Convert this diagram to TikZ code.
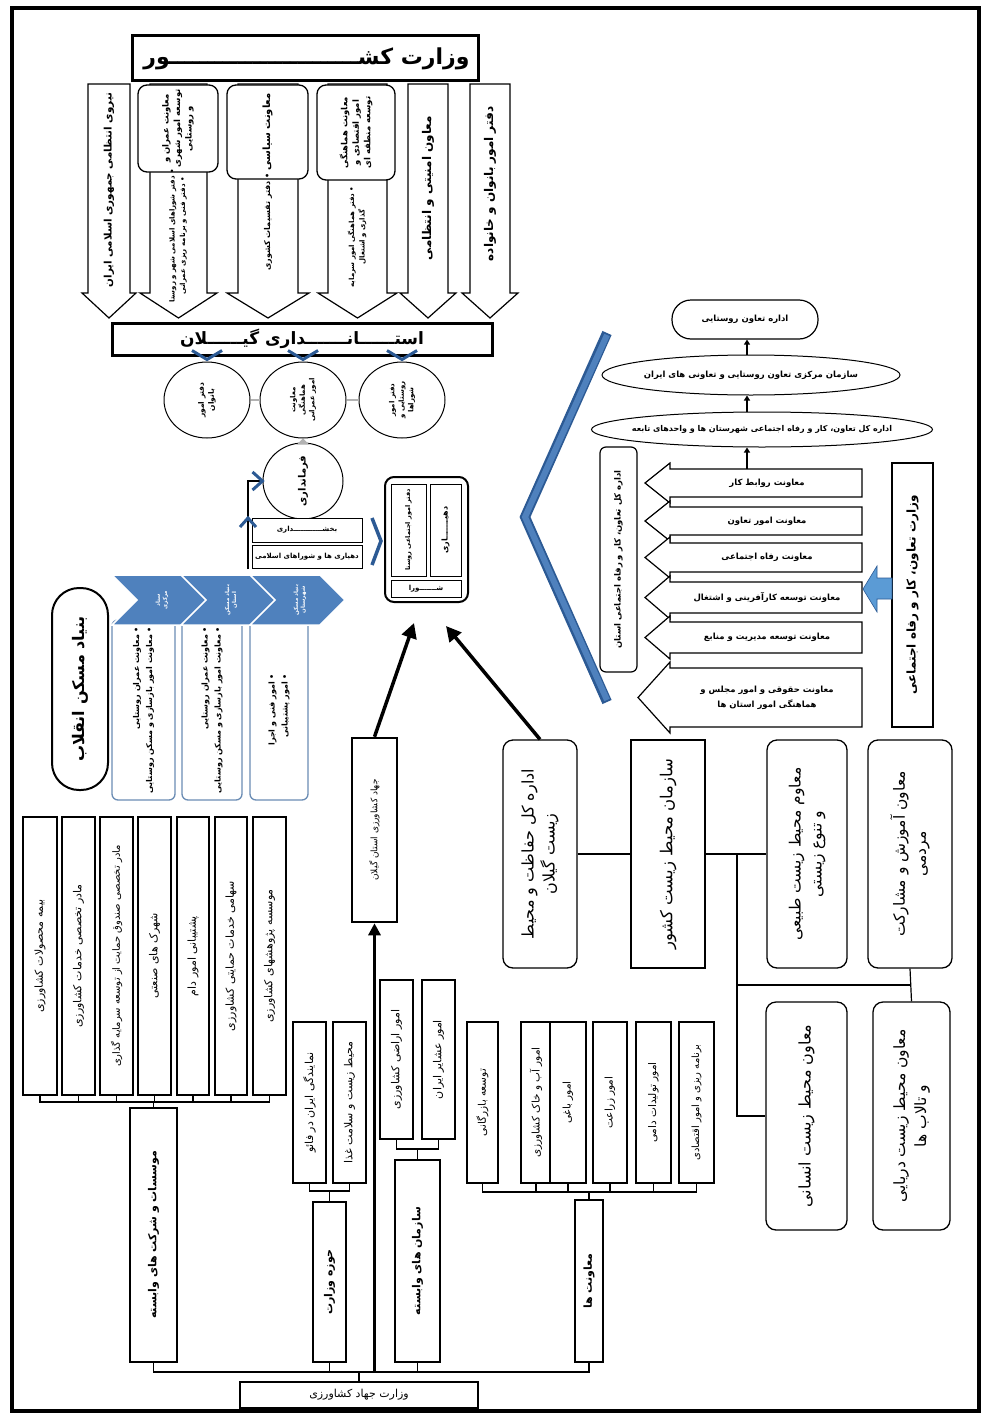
\documentclass[tikz,border=0pt]{standalone}
\usepackage{fontspec}
\newfontfamily\arabicfont[Script=Arabic]{DejaVu Sans}
\TeXXeTstate=1
\usetikzlibrary{fit,shapes.geometric,arrows.meta,calc}
\newcommand{\fa}[1]{\beginR #1\endR}
\newcommand{\FB}[2]{\arabicfont\bfseries\fontsize{#1}{#2}\selectfont}
\newcommand{\FN}[2]{\arabicfont\fontsize{#1}{#2}\selectfont}
\definecolor{bl}{HTML}{4F81BD}
\definecolor{bldark}{HTML}{2C5A94}
\definecolor{blfill}{HTML}{5B9BD5}
\definecolor{bxblue}{HTML}{6A8CB4}
\newcommand{\vbx}[5][]{\node[#2, fit={#4}, inner sep=0pt] (#3) {};\node[rotate=90, align=center, inner sep=0pt, #1] (#3t) at (#3.center) {#5};}
\newcommand{\hbx}[5][]{\node[#2, fit={#4}, inner sep=0pt] (#3) {};\node[align=center, inner sep=0pt, #1] (#3t) at (#3.center) {#5};}
\newcommand{\dar}[3]{\draw[arw] (#1,84) -- (#2,84) -- (#2,293) -- ({#2+#3},293) -- ({(#1+#2)/2},318) -- ({#1-#3},293) -- (#1,293) -- cycle;}
\newcommand{\lar}[5]{\draw[arw] (862,#2) -- (670,#2) -- (670,{#2-6}) -- (#4,{(#2+#3)/2}) -- (670,{#3+6}) -- (670,#3) -- (862,#3) -- cycle;
  \node[font=\FB{8.5}{12}, align=center, inner sep=0pt] (#1) at (767,{(#2+#3)/2}) {#5};}
\newcommand{\chev}[2]{\draw[chevst] (#1,575) -- ({#1+70},575) -- ({#1+95},600) -- ({#1+70},625) -- (#1,625) -- ({#1+25},600) -- cycle;
  \node[rotate=90, align=center, inner sep=0pt, text=white, font=\FB{5.5}{7}] at ({#1+50},600) {#2};}
\begin{document}
\begin{tikzpicture}[x=1pt,y=-1pt,
  bx/.style={draw, line width=1.3pt, fill=white},
  rbx/.style={bx, rounded corners=9pt},
  arw/.style={draw, line width=1.2pt, fill=white, line join=miter},
  ell/.style={ellipse, draw, line width=1pt, inner sep=0pt, fill=white},
  rot/.style={rotate=90, align=center, inner sep=0pt},
  blchev/.style={draw=bldark, line width=3pt, line cap=butt, line join=miter},
  chevst/.style={fill=bl, draw=white, line width=1.5pt},
  ln/.style={line width=1.2pt},
  barrow/.style={line width=3.5pt, -{Triangle[width=15pt,length=15pt]}},
  sarrow/.style={line width=1.5pt, -{Triangle[width=6pt,length=5pt]}}]
\useasboundingbox (0,0) rectangle (986,1418);
\fill[white] (0,0) rectangle (986,1418);
\draw[line width=3.5pt] (12,8) rectangle (979,1411);

% ---------- top: ministry of interior ----------
\node[bx, line width=3pt, fit={(132,36) (478,81)}, inner sep=0pt] (vk) {};
\node[font=\FB{22}{26}, inner sep=0pt, anchor=east] (vkt) at ($(vk.east)+(-10,0)$) {\fa{وزارت کشـــــــــــــــــــــــــور}};
\dar{88}{130}{6}
\dar{150}{207}{10}
\dar{238}{298}{11}
\dar{328}{387}{10}
\dar{408}{448}{8}
\dar{470}{510}{8}
\node[rot, font=\FB{10.3}{13}] (a1t) at (109,190) {\fa{نیروی انتظامی جمهوری اسلامی ایران}};
\vbx[font=\FB{8.5}{11.5}]{rbx}{m2}{(138,85) (218,172)}{\fa{معاونت عمران و}\\\fa{توسعه امور شهری}\\\fa{و روستایی}};
\node[rot, font=\FB{7}{10.5}] (a2t) at (178,236) {\fa{• دفتر شوراهای اسلامی شهر و روستا}\\\fa{• دفتر فنی و برنامه ریزی عمرانی}};
\vbx[font=\FB{10}{13}]{rbx}{m3}{(227,85) (308,179)}{\fa{معاونت سیاسی}};
\node[rot, font=\FB{8}{11}] (a3t) at (268,222) {\fa{• دفتر تقسیمات کشوری}};
\vbx[font=\FB{8.5}{11.5}]{rbx}{m4}{(317,85) (395,180)}{\fa{معاونت هماهنگی}\\\fa{امور اقتصادی و}\\\fa{توسعه منطقه ای}};
\node[rot, font=\FB{7}{10.5}] (a4t) at (357,237) {\fa{• دفتر هماهنگی امور سرمایه}\\\fa{گذاری و اشتغال}};
\node[rot, font=\FB{12}{14}] (a5t) at (428,188) {\fa{معاون امنیتی و انتظامی}};
\node[rot, font=\FB{12}{14}] (a6t) at (490,184) {\fa{دفتر امور بانوان و خانواده}};

% ---------- governorate ----------
\hbx[font=\FB{17}{20}]{bx, line width=3pt}{og}{(112,323) (492,355)}{\fa{استــــــانـــــــداری گیــــــلان}}
\node[ell, minimum width=86, minimum height=76] (c1) at (207,400) {};
\node[ell, minimum width=86, minimum height=76] (c2) at (303,400) {};
\node[ell, minimum width=86, minimum height=76] (c3) at (402,400) {};
\node[rot, font=\FB{7.5}{10}] (c1t) at (c1) {\fa{دفتر امور}\\\fa{بانوان}};
\node[rot, font=\FB{7}{9.5}] (c2t) at (c2) {\fa{معاونت}\\\fa{هماهنگی}\\\fa{امور عمرانی}};
\node[rot, font=\FB{7}{9.5}] (c3t) at (c3) {\fa{دفتر امور}\\\fa{روستایی و}\\\fa{شوراها}};
\draw[gray!60, line width=1.2pt] (c1) -- (c2);
\draw[gray!60, line width=1.2pt] (c2) -- (c3);
\foreach \c in {c1,c2,c3} \draw[blchev] ($(\c.north)+(-15,-11)$) -- ($(\c.north)+(0,-2)$) -- ($(\c.north)+(15,-11)$);
\node[ell, minimum width=80, minimum height=76] (fm) at (303,481) {};
\node[rot, font=\FB{10}{13}] (fmt) at (fm) {\fa{فرمانداری}};
\draw[-{Triangle[width=12pt,length=6pt]}, gray!60, line width=1pt] (fm.north) -- (c2.south);
\hbx[font=\FB{7}{9}]{draw, line width=1pt, fill=white}{dh1}{(252,518) (362,542)}{\fa{بخشــــــــــــداری}}
\hbx[font=\FB{7}{9}]{draw, line width=1pt, fill=white}{dh2}{(252,545) (362,568)}{\fa{دهیاری ها و شوراهای اسلامی}}
\coordinate (brb) at (248,569);
\draw[line width=2.5pt] (brb) |- (fm.west);
\draw[blchev] ($(fm.west)+(-10,-9)$) -- (fm.west) -- ($(fm.west)+(-10,9)$);
\draw[blchev] (240,527) -- (248,518) -- (256,527);
\draw[blchev, line width=3.5pt] (372,518) -- (381,541) -- (372,565);

% ---------- middle box ----------
\node[draw, line width=2pt, rounded corners=9pt, fit={(385,477) (468,602)}, inner sep=0pt] (mb) {};
\vbx[font=\FB{6.5}{8}]{draw, line width=0.8pt}{mb1}{(391,484) (426,576)}{\fa{دفتر امور اجتماعی روستا}}
\vbx[font=\FB{8}{10}]{draw, line width=0.8pt}{mb2}{(430,484) (461,576)}{\fa{دهیـــــــاری}}
\hbx[font=\FB{7}{9}]{draw, line width=0.8pt}{mb3}{(391,580) (461,597)}{\fa{شـــــــورا}}

% ---------- big blue chevron ----------
\draw[line width=10pt, color=bldark] (607,333) -- (525,517) -- (607,702);
\draw[line width=6pt, color=bl] (607,335) -- (525,517) -- (607,700);

% ---------- right: ministry of cooperatives ----------
\hbx[font=\FB{8.5}{11}]{draw, line width=1.2pt, rounded corners=19pt}{p1}{(672,300) (818,339)}{\fa{اداره تعاون روستایی}}
\node[ell, minimum width=298, minimum height=40] (e2) at (751,375) {};
\node[font=\FB{8.5}{11}, inner sep=0pt] (e2t) at (e2) {\fa{سازمان مرکزی تعاون روستایی و تعاونی های ایران}};
\node[ell, minimum width=341, minimum height=35] (e3) at (762,429.5) {};
\node[font=\FB{8}{11}, inner sep=0pt] (e3t) at (e3) {\fa{اداره کل تعاون، کار و رفاه اجتماعی شهرستان ها و واحدهای تابعه}};
\coordinate (ax) at (747,0);
\coordinate (r1top) at (747,469);
\draw[sarrow] (r1top) -- (e3.south -| ax);
\draw[sarrow] (e3.north -| ax) -- (e2.south -| ax);
\draw[sarrow] (e2.north -| ax) -- (p1.south -| ax);
\lar{r1}{469}{497}{645}{\fa{معاونت روابط کار}}
\lar{r2}{507}{535}{645}{\fa{معاونت امور تعاون}}
\lar{r3}{543}{572}{645}{\fa{معاونت رفاه اجتماعی}}
\lar{r4}{582}{613}{645}{\fa{معاونت توسعه کارآفرینی و اشتغال}}
\lar{r5}{622}{653}{645}{\fa{معاونت توسعه مدیریت و منابع}}
\lar{r6}{668}{727}{638}{\fa{معاونت حقوقی و امور مجلس و}\\[3pt]\fa{هماهنگی امور استان ها}}
\vbx[font=\FB{8.5}{11}]{draw, line width=1.2pt, rounded corners=6pt, fill=white}{ek2}{(600,447) (637,672)}{\fa{اداره کل تعاون، کار و رفاه اجتماعی استان}}
\vbx[font=\FB{12}{15}]{draw, line width=1.5pt}{vt}{(892,463) (933,727)}{\fa{وزارت تعاون، کار و رفاه اجتماعی}}
\draw[fill=blfill, draw=bldark, line width=0.6pt] (892,578) -- (877,578) -- (877,566) -- (863,589) -- (877,612) -- (877,599) -- (892,599) -- cycle;

% ---------- housing foundation ----------
\vbx[font=\FB{16}{19}]{draw, line width=2pt, rounded corners=27pt}{bm}{(52,588) (108,790)}{\fa{بنیاد مسکن انقلاب}}
\vbx[font=\FB{8}{13}, align=right]{draw=bxblue, line width=1.3pt, rounded corners=6pt}{b1}{(112,620) (175,800)}{\fa{• معاونت عمران روستایی}\\\fa{• معاونت امور بازسازی و مسکن روستایی}}
\vbx[font=\FB{8}{13}, align=right]{draw=bxblue, line width=1.3pt, rounded corners=6pt}{b2}{(182,620) (242,800)}{\fa{• معاونت عمران روستایی}\\\fa{• معاونت امور بازسازی و مسکن روستایی}}
\vbx[font=\FB{8}{13}, align=right]{draw=bxblue, line width=1.3pt, rounded corners=6pt}{b3}{(250,620) (308,800)}{\fa{• امور فنی و اجرا}\\\fa{• امور پشتیبانی}}
\chev{112}{\fa{ستاد}\\\fa{مرکزی}}
\chev{181}{\fa{بنیاد مسکن}\\\fa{استان}}
\chev{250}{\fa{بنیاد مسکن}\\\fa{شهرستان}}

% ---------- agriculture ----------
\vbx[font=\FN{9}{12}]{draw, line width=2.5pt, fill=white}{jk}{(352,738) (397,922)}{\fa{جهاد کشاورزی استان گیلان}}
\vbx[font=\FN{11}{14}]{bx}{s1}{(23,817) (57,1095)}{\fa{بیمه محصولات کشاورزی}}
\vbx[font=\FN{11}{14}]{bx}{s2}{(62,817) (95,1095)}{\fa{مادر تخصصی خدمات کشاورزی}}
\vbx[font=\FN{10}{13}]{bx}{s3}{(100,817) (133,1095)}{\fa{مادر تخصصی صندوق حمایت از توسعه سرمایه گذاری}}
\vbx[font=\FN{11}{14}]{bx}{s4}{(138,817) (171,1095)}{\fa{شهرک های صنعتی}}
\vbx[font=\FN{11}{14}]{bx}{s5}{(177,817) (209,1095)}{\fa{پشتیبانی امور دام}}
\vbx[font=\FN{11}{14}]{bx}{s6}{(215,817) (247,1095)}{\fa{سهامی خدمات حمایتی کشاورزی}}
\vbx[font=\FN{11}{14}]{bx}{s7}{(253,817) (286,1095)}{\fa{موسسه پژوهشهای کشاورزی}}
\vbx[font=\FB{11}{14}]{bx}{ms}{(130,1108) (177,1362)}{\fa{موسسات و شرکت های وابسته}}
\coordinate (cy1) at (0,1102);
\draw[ln] (s1.south) |- (s7.south |- cy1) -- (s7.south);
\foreach \s in {s2,s3,s4,s5,s6} \draw[ln] (\s.south) -- (\s.south |- cy1);
\draw[ln] (ms.north) -- (ms.north |- cy1);

\vbx[font=\FN{11}{14}]{bx}{nf}{(293,1022) (326,1183)}{\fa{نمایندگی ایران در فائو}}
\vbx[font=\FN{11}{14}]{bx}{mz}{(333,1022) (366,1183)}{\fa{محیط زیست و سلامت غذا}}
\vbx[font=\FB{11}{14}]{bx}{hv}{(313,1202) (346,1362)}{\fa{حوزه وزارت}}
\coordinate (cy2) at (0,1191);
\draw[ln] (nf.south) |- (mz.south |- cy2) -- (mz.south);
\draw[ln] (hv.north) -- (hv.north |- cy2);

\vbx[font=\FN{11}{14}]{bx}{ak}{(380,980) (413,1139)}{\fa{امور اراضی کشاورزی}}
\vbx[font=\FN{11}{14}]{bx}{ai}{(422,980) (455,1139)}{\fa{امور عشایر ایران}}
\vbx[font=\FB{11}{14}]{bx}{sv}{(395,1160) (440,1362)}{\fa{سازمان های وابسته}}
\coordinate (cy3) at (0,1149);
\draw[ln] (ak.south) |- (ai.south |- cy3) -- (ai.south);
\draw[ln] (sv.north) -- (sv.north |- cy3);

\vbx[font=\FN{10.5}{13}]{bx}{tb}{(467,1022) (498,1183)}{\fa{توسعه بازرگانی}}
\vbx[font=\FN{10.5}{13}]{bx}{ab}{(521,1022) (551,1183)}{\fa{امور آب و خاک کشاورزی}}
\vbx[font=\FN{10.5}{13}]{bx}{ba}{(550,1022) (586,1183)}{\fa{امور باغی}}
\vbx[font=\FN{10.5}{13}]{bx}{za}{(593,1022) (627,1183)}{\fa{امور زراعت}}
\vbx[font=\FN{10.5}{13}]{bx}{td}{(636,1022) (671,1183)}{\fa{امور تولیدات دامی}}
\vbx[font=\FN{10}{12.5}]{bx}{br}{(679,1022) (714,1183)}{\fa{برنامه ریزی و امور اقتصادی}}
\vbx[font=\FB{11}{14}]{bx}{mh}{(575,1200) (603,1362)}{\fa{معاونت ها}}
\coordinate (cy4) at (0,1192);
\draw[ln] (tb.south) |- (br.south |- cy4) -- (br.south);
\foreach \s in {ab,ba,za,td} \draw[ln] (\s.south) -- (\s.south |- cy4);
\draw[ln] (mh.north) -- (mh.north |- cy4);

\hbx[font=\FN{11}{14}]{bx}{vj}{(240,1382) (478,1408)}{\fa{وزارت جهاد کشاورزی}}
\coordinate (cy5) at (0,1372);
\draw[ln] (ms.south) |- (mh.south |- cy5) -- (mh.south);
\foreach \s in {hv,sv} \draw[ln] (\s.south) -- (\s.south |- cy5);
\draw[ln] (vj.north) -- (vj.north |- cy5);
\draw[line width=3.5pt, -{Triangle[width=12pt,length=12pt]}] (jk.south |- cy5) -- (jk.south);

% ---------- environment ----------
\vbx[font=\FN{16}{21}]{draw, line width=1.3pt, rounded corners=10pt}{ek}{(503,740) (577,968)}{\fa{اداره کل حفاظت و محیط}\\\fa{زیست گیلان}}
\vbx[font=\FN{16.5}{20}]{draw, line width=1.3pt}{sm}{(631,740) (705,968)}{\fa{سازمان محیط زیست کشور}}
\vbx[font=\FN{15.5}{21}]{draw, line width=1.3pt, rounded corners=10pt}{mt}{(767,740) (847,968)}{\fa{معاوم محیط زیست طبیعی}\\\fa{و تنوع زیستی}}
\vbx[font=\FN{15.5}{21}]{draw, line width=1.3pt, rounded corners=10pt}{ma}{(868,740) (952,968)}{\fa{معاون آموزش و مشارکت}\\\fa{مردمی}}
\vbx[font=\FN{16}{21}]{draw, line width=1.3pt, rounded corners=10pt}{mi}{(766,1002) (847,1230)}{\fa{معاون محیط زیست انسانی}}
\vbx[font=\FN{15.5}{21}]{draw, line width=1.3pt, rounded corners=10pt}{md}{(873,1002) (950,1230)}{\fa{معاون محیط زیست دریایی}\\\fa{و تالاب ها}}
\draw[ln] (ek.east) -- (sm.west);
\draw[ln] (sm.east) -- (mt.west);
\coordinate (jx) at (737,854);
\coordinate (cy6) at (0,985);
\draw[ln] (jx) |- (mi.west);
\draw[ln] (jx |- cy6) -- (ma.south |- cy6);
\draw[ln] (ma.south) -- (md.north);

% ---------- black arrows to middle box ----------
\coordinate (t1) at (414,623);
\coordinate (t2) at (446,626);
\draw[barrow] (jk.north) -- (t1);
\draw[barrow] (ek.north) -- (t2);
\end{tikzpicture}
\end{document}
